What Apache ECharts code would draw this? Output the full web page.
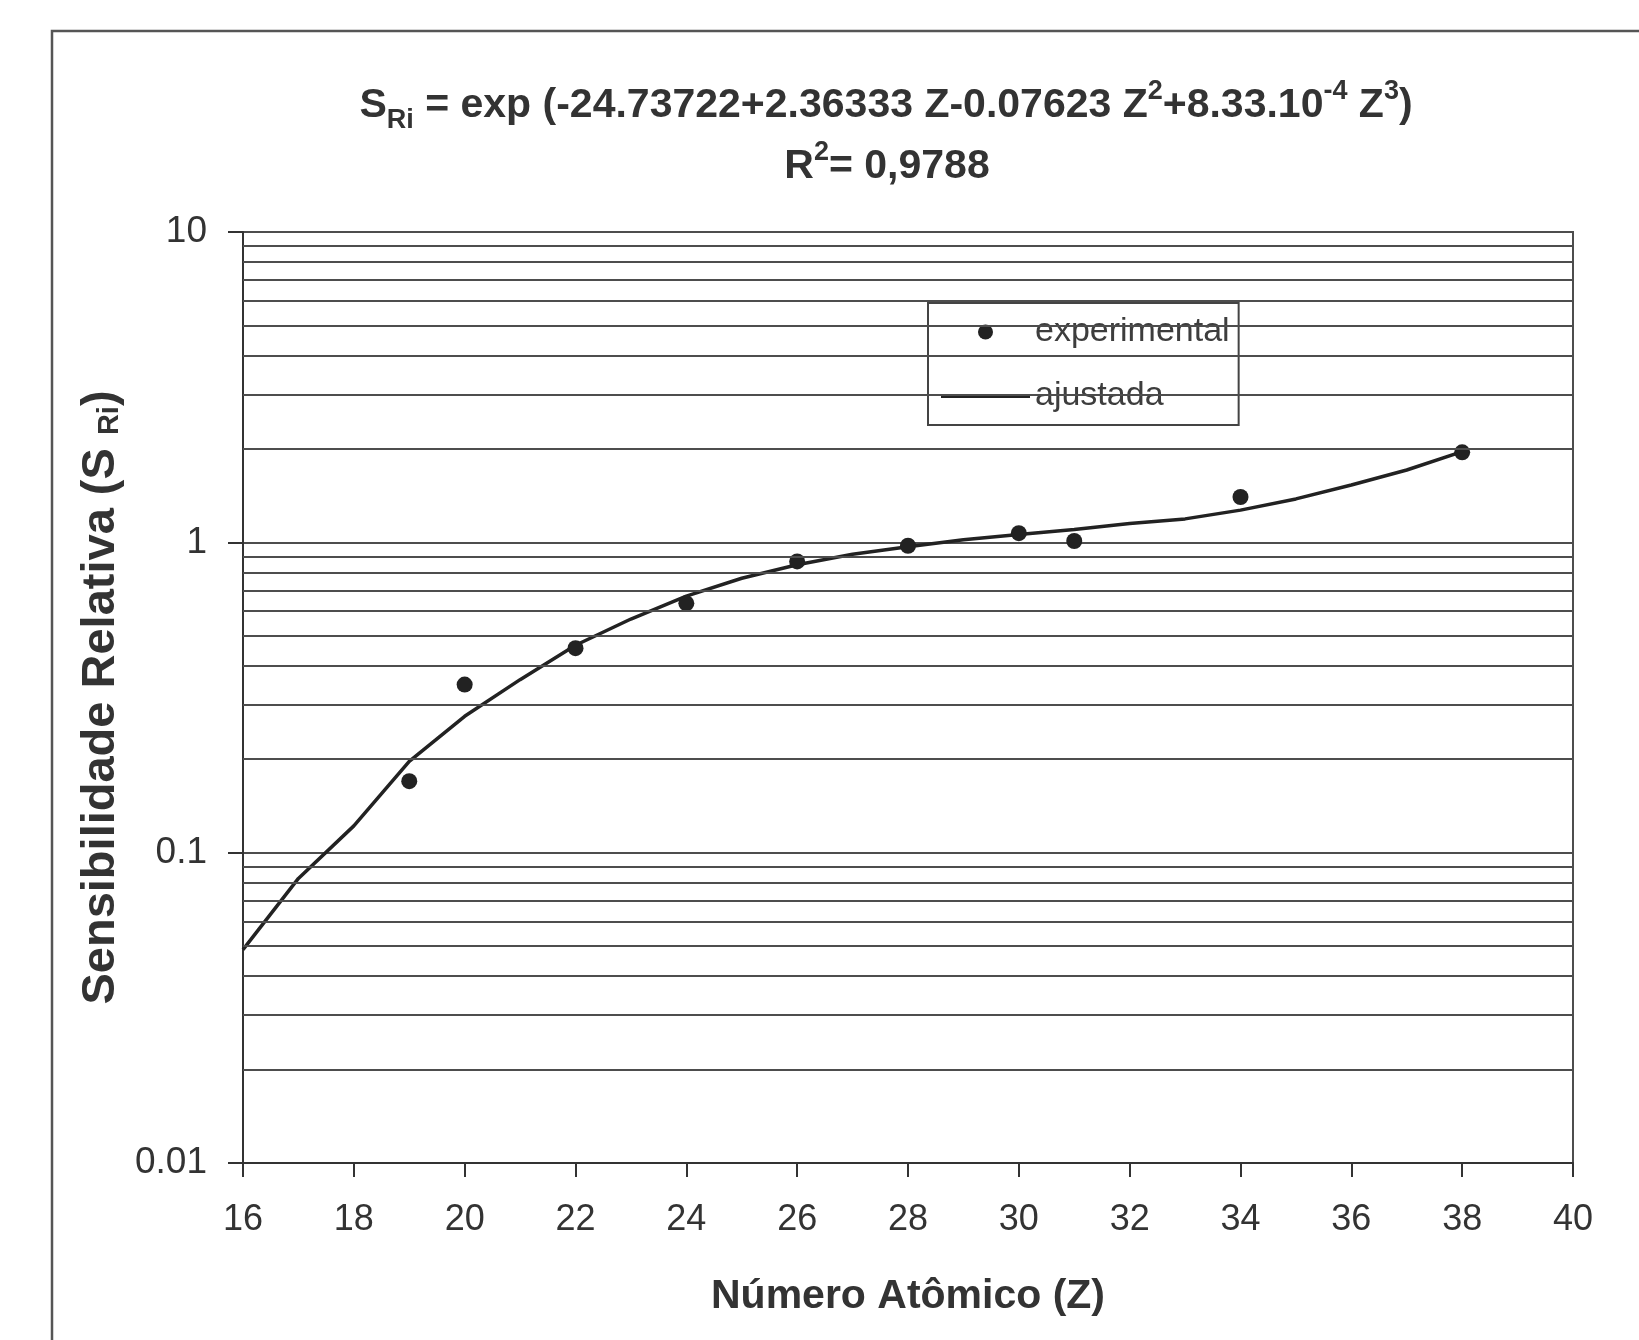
<!DOCTYPE html>
<html>
<head>
<meta charset="utf-8">
<script src="https://cdn.jsdelivr.net/npm/echarts@6/dist/echarts.min.js"></script>
<style>
  html, body { margin: 0; padding: 0; background: #fff; }
  #main { width: 1639px; height: 1340px; }
</style>
</head>
<body>
<div id="main"></div>
<script>
// experimental points
const zExp = [19, 20, 22, 24, 26, 28, 30, 31, 34, 38];
const sExp = [0.170, 0.348, 0.456, 0.636, 0.868, 0.975, 1.07, 1.01, 1.40, 1.95];

// fitted curve, read at each integer Z
const zFit = [16, 17, 18, 19, 20, 21, 22, 23, 24, 25, 26, 27, 28, 29, 30, 31, 32, 33, 34, 35, 36, 37, 38];
const sFit = [0.0487, 0.0826, 0.122, 0.197, 0.275, 0.361, 0.466, 0.566, 0.671, 0.766, 0.847, 0.916,
              0.967, 1.02, 1.06, 1.10, 1.15, 1.19, 1.27, 1.38, 1.53, 1.71, 1.96];

// log gridlines between the decades
const yMinorGrid = [0.02, 0.03, 0.04, 0.05, 0.06, 0.07, 0.08, 0.09,
                    0.2, 0.3, 0.4, 0.5, 0.6, 0.7, 0.8, 0.9,
                    2, 3, 4, 5, 6, 7, 8, 9];
const yTickLabels = ['0.01', '0.1', '1', '10'];

const FONT = '"Liberation Sans", Arial, sans-serif';
const TXT = '#333';
const GRID = '#4d4d4d';

const chart = echarts.init(document.getElementById('main'));

const option = {
  animation: false,
  backgroundColor: '#fff',
  textStyle: { fontFamily: FONT },
  grid: {
    left: 243, right: 66, top: 232, bottom: 177,
    show: true, borderColor: GRID, borderWidth: 2, backgroundColor: 'transparent'
  },
  graphic: [
    {
      type: 'rect', silent: true, z: 0,
      shape: { x: 52, y: 31, width: 1800, height: 1500 },
      style: { fill: null, stroke: '#555', lineWidth: 2.5 }
    },
    {
      type: 'text', x: 886, y: 106, silent: true,
      style: {
        text: '{b|S}{sub|Ri}{b| = exp (-24.73722+2.36333 Z-0.07623 Z}{sup|2}{b|+8.33.10}{sup|-4}{b| Z}{sup|3}{b|)}',
        align: 'center', verticalAlign: 'middle',
        rich: {
          b: { fontSize: 41, fontWeight: 'bold', fontFamily: FONT, fill: TXT, lineHeight: 56 },
          sup: { fontSize: 27, fontWeight: 'bold', fontFamily: FONT, fill: TXT, lineHeight: 26, verticalAlign: 'top' },
          sub: { fontSize: 27, fontWeight: 'bold', fontFamily: FONT, fill: TXT, lineHeight: 26, verticalAlign: 'bottom' }
        }
      }
    },
    {
      type: 'text', x: 887, y: 167, silent: true,
      style: {
        text: '{b|R}{sup|2}{b|= 0,9788}',
        align: 'center', verticalAlign: 'middle',
        rich: {
          b: { fontSize: 41, fontWeight: 'bold', fontFamily: FONT, fill: TXT, lineHeight: 56 },
          sup: { fontSize: 27, fontWeight: 'bold', fontFamily: FONT, fill: TXT, lineHeight: 26, verticalAlign: 'top' }
        }
      }
    }
  ],
  legend: {
    orient: 'vertical',
    left: 928, top: 303,
    padding: [9, 9, 9, 13],
    itemWidth: 89, itemHeight: 15, itemGap: 24,
    backgroundColor: '#fff',
    borderColor: '#444', borderWidth: 2,
    textStyle: { fontSize: 34, color: '#3d3d3d', fontFamily: FONT, lineHeight: 40 },
    data: [
      { name: 'experimental', icon: 'circle' },
      { name: 'ajustada', icon: 'path://M0,0L100,0L100,4.6L0,4.6Z' }
    ]
  },
  xAxis: {
    type: 'value',
    min: 16, max: 40, interval: 2,
    name: 'Número Atômico (Z)',
    nameLocation: 'middle', nameGap: 113,
    nameTextStyle: { fontSize: 41, fontWeight: 'bold', color: TXT, fontFamily: FONT },
    axisLine: { lineStyle: { color: '#333', width: 2 } },
    axisTick: { length: 14, lineStyle: { color: '#333', width: 2 } },
    axisLabel: { fontSize: 36, color: TXT, margin: 39, fontFamily: FONT },
    splitLine: { show: false }
  },
  yAxis: {
    type: 'log', logBase: 10,
    min: 0.01, max: 10,
    name: 'Sensibilidade Relativa (S {sub|Ri})',
    nameLocation: 'middle', nameGap: 118, nameRotate: 90,
    nameTextStyle: {
      fontSize: 47, fontWeight: 'bold', color: TXT, fontFamily: FONT,
      rich: { sub: { fontSize: 29, fontWeight: 'bold', color: TXT, fontFamily: FONT, verticalAlign: 'bottom', lineHeight: 28 } }
    },
    axisLine: { show: true, lineStyle: { color: '#333', width: 2 } },
    axisTick: { show: true, length: 15, lineStyle: { color: '#333', width: 2 } },
    axisLabel: {
      fontSize: 37, color: TXT, margin: 36, fontFamily: FONT,
      formatter: function (v) { return yTickLabels[Math.round(Math.log10(v)) + 2]; }
    },
    splitLine: { show: true, lineStyle: { color: GRID, width: 2 } }
  },
  series: [
    {
      name: 'ajustada',
      type: 'line',
      data: zFit.map((z, i) => [z, sFit[i]]),
      symbol: 'none',
      smooth: false,
      lineStyle: { color: '#222', width: 3.5 },
      itemStyle: { color: '#222' },
      z: 3,
      markLine: {
        silent: true,
        symbol: ['none', 'none'],
        label: { show: false },
        lineStyle: { color: GRID, width: 2, type: 'solid' },
        data: yMinorGrid.map(v => ({ yAxis: v }))
      }
    },
    {
      name: 'experimental',
      type: 'scatter',
      data: zExp.map((z, i) => [z, sExp[i]]),
      symbol: 'circle',
      symbolSize: 16,
      itemStyle: { color: '#222', opacity: 1 },
      z: 4
    }
  ]
};

chart.setOption(option);
</script>
</body>
</html>
